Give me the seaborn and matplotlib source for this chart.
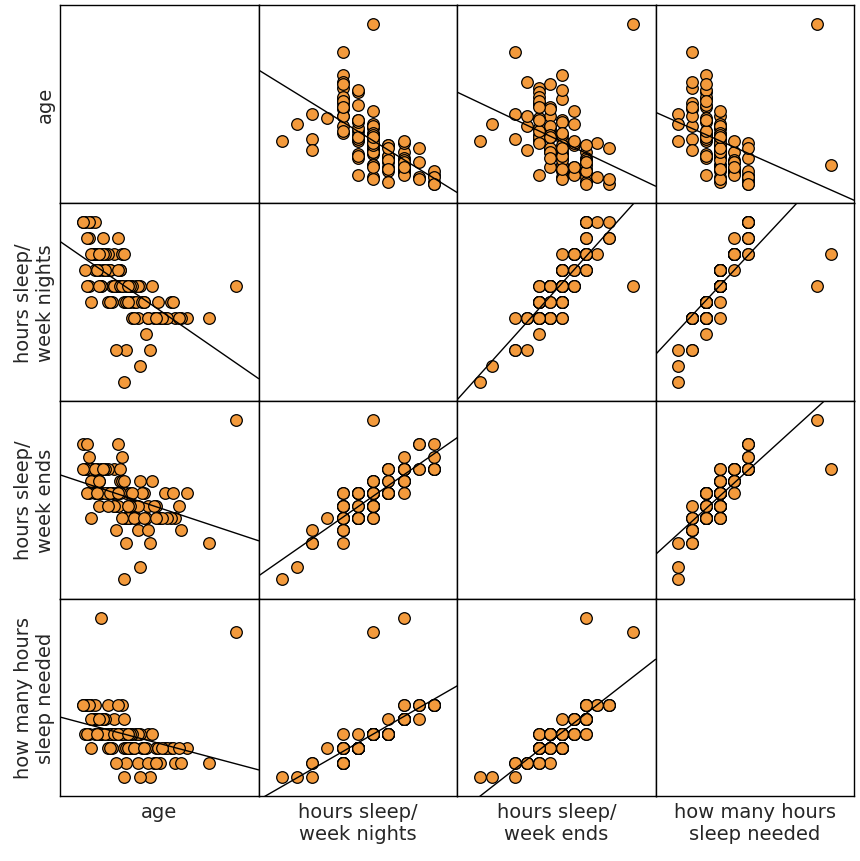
import matplotlib
matplotlib.use("Agg")
import matplotlib.pyplot as plt
import seaborn as sns
import pandas as pd

# survey answers (approximate)
age = [19.2, 20.1, 18.7, 21.5, 19.8, 20.4, 22.3, 18.9, 19.5, 20.8,
       21.1, 19.0, 20.6, 18.4, 22.8, 19.7, 20.2, 21.9, 18.6, 19.3,
       20.9, 23.4, 19.1, 20.5, 18.8, 21.3, 19.9, 20.0, 22.1, 18.5,
       19.6, 20.3, 21.7, 19.4, 18.3, 20.7, 22.6, 19.2, 21.0, 20.1,
       18.9, 19.8, 20.4, 23.1, 19.5, 21.4, 18.7, 20.2, 19.0, 22.0,
       20.6, 19.3, 21.8, 18.6, 20.9, 19.7, 24.5, 19.1, 20.3, 21.2,
       18.4, 19.9, 20.5, 22.4, 19.6, 21.6, 18.8, 20.0, 19.4, 20.8,
       21.0, 19.2, 18.5, 22.7, 20.4, 19.8, 21.5, 18.9, 20.1, 19.5,
       20.7, 23.0, 19.0, 21.1, 18.7, 20.2, 19.6, 22.2, 20.6, 19.3,
       21.3, 18.6, 20.0, 19.9, 25.8, 21.9, 19.1, 20.5, 18.3, 20.3]
week_nights = [7, 7.5, 6.5, 6, 8, 7, 6, 7.5, 8, 6.5,
               7, 8, 6.5, 7.5, 6, 7, 8, 6, 7, 8.5,
               6.5, 6, 7.5, 7, 8, 6.5, 7, 8.5, 6, 7,
               7.5, 6.5, 7, 8, 9, 6, 6.5, 7, 6, 7.5,
               8, 7, 6.5, 6, 7.5, 5.5, 9, 7, 8, 6.5,
               7, 7.5, 6, 8.5, 7, 6.5, 6, 7, 8, 6.5,
               9, 7, 6.5, 6, 7.5, 5, 8, 7, 7.5, 6,
               7, 8, 8.5, 6.5, 5, 7, 6, 9, 7, 6.5,
               7, 6, 7.5, 4.5, 8, 7, 6.5, 6, 7, 8,
               6.5, 9, 7.5, 5, 7, 6, 8, 7, 9, 4]
week_ends = [9, 9.5, 8, 8.5, 10, 8, 9, 9, 10, 8.5,
             9.5, 9, 8, 10, 8, 9, 10.5, 8.5, 9, 10,
             8, 9, 9.5, 8.5, 10, 9, 8.5, 11, 8, 9,
             9, 8, 9.5, 10, 11, 8.5, 8, 9, 7.5, 10,
             9.5, 8.5, 9, 7.5, 9, 8, 10, 9.5, 10, 8,
             9, 10, 8.5, 10, 8.5, 9, 7, 8.5, 9.5, 9,
             10, 9, 8, 8, 9, 7, 9.5, 8.5, 9, 8,
             8.5, 10, 11, 9, 7, 8.5, 7.5, 10, 9, 8.5,
             9, 8.5, 9, 6, 9.5, 8, 9, 8, 8.5, 10,
             8, 10.5, 9, 7.5, 12, 8, 9.5, 8.5, 10, 5.5]
needed = [8, 8, 7.5, 8, 8.5, 8, 7.5, 8, 9, 7.5,
          8, 8.5, 7.5, 8, 7, 8, 9, 7.5, 8, 8.5,
          8, 7.5, 8, 8, 8.5, 7.5, 8, 9, 7, 8,
          8, 7.5, 8, 8.5, 9, 7.5, 7.5, 8, 7, 8,
          8.5, 8, 7.5, 7, 8, 7.5, 9, 8, 8.5, 7.5,
          8, 8.5, 7, 9, 8, 7.5, 7, 8, 8.5, 7.5,
          9, 8, 7.5, 7.5, 8, 6.5, 8.5, 8, 8, 7.5,
          8, 12, 9, 7.5, 7, 8, 7, 9, 8, 7.5,
          8, 7.5, 8, 6.5, 8.5, 8, 7.5, 7.5, 8, 8.5,
          7.5, 9, 8, 7, 11.5, 7, 8.5, 8, 9, 6.5]

labels = ["age", "hours sleep/\nweek nights", "hours sleep/\nweek ends",
          "how many hours\nsleep needed"]
df = pd.DataFrame(dict(zip(labels, [age, week_nights, week_ends, needed])))

sns.set_style("white")
fig, axes = plt.subplots(4, 4, figsize=(8.6, 8.62), dpi=100)
fig.subplots_adjust(left=0.07, right=0.993, top=0.993, bottom=0.075, wspace=0, hspace=0)

for i, yv in enumerate(labels):
    for j, xv in enumerate(labels):
        ax = axes[i, j]
        lo, hi = df[xv].min(), df[xv].max()
        pad = (hi - lo) * 0.15
        ax.set_xlim(lo - pad, hi + pad)
        ylo, yhi = df[yv].min(), df[yv].max()
        ypad = (yhi - ylo) * 0.12
        ax.set_ylim(ylo - ypad, yhi + ypad)
        if i != j:
            sns.regplot(data=df, x=xv, y=yv, ax=ax, ci=None, truncate=False,
                        scatter_kws=dict(s=70, color="#f39a3c", edgecolor="black",
                                         linewidths=0.9, alpha=1),
                        line_kws=dict(color="black", lw=1))
        ax.set_xticks([])
        ax.set_yticks([])
        ax.set_xlabel(xv if i == 3 else "", fontsize=14)
        ax.set_ylabel(yv if j == 0 else "", fontsize=14)
        for s in ax.spines.values():
            s.set_color("black")
            s.set_linewidth(1)

fig.savefig("out.png")
